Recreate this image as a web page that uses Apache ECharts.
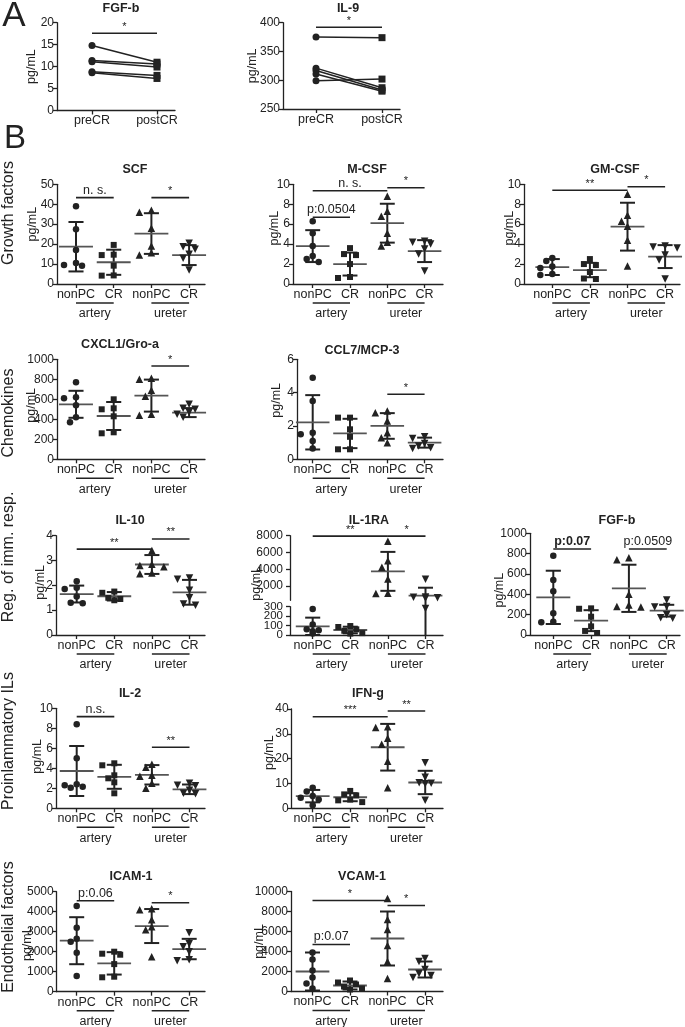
<!DOCTYPE html>
<html>
<head>
<meta charset="utf-8">
<script src="https://cdn.jsdelivr.net/npm/echarts@6/dist/echarts.min.js"></script>
<style>
  html, body { margin: 0; padding: 0; background: #fff; }
  #chart { width: 685px; height: 1027px; }
</style>
</head>
<body>
<div id="chart"></div>
<script>
// ---------- data ----------
const groupNames = ["nonPC", "CR", "nonPC", "CR"];
const tissueNames = ["artery", "ureter"];
const pairNames = ["preCR", "postCR"];
const rowNames = ["Growth factors", "Chemokines", "Reg. of imm. resp.", "Proinlammatory ILs", "Endothelial factors"];

// panel A (paired, pre -> post)
const fgfAPre = [14.8, 11.4, 11.1, 8.8, 8.6];
const fgfAPost = [11.0, 10.6, 9.9, 8.0, 7.3];
const fgfAAxis = [0, 20, 5];
const il9Pre = [375, 321, 317, 311, 299];
const il9Post = [374, 287, 283, 281, 302];
const il9Axis = [250, 400, 50];

// panel B: points per group (artery nonPC, artery CR, ureter nonPC, ureter CR), mean, SD, axis [min,max,step]
const scfPoints = [[39, 27.5, 17, 10.5, 9.5, 9.2], [19.6, 14.7, 14.5, 9.2, 4.3, 4.2], [37, 36, 28, 19, 15.7, 14.5], [20.4, 18.7, 17.4, 14.9, 12.9, 7.0]];
const scfMean = [18.7, 10.9, 25.3, 14.5];
const scfSd = [12.4, 6.3, 10.2, 5.0];
const scfAxis = [0, 50, 10];
const scfSig = [[0, 1, 43.3, "n. s."], [2, 3, 43.3, "*"]];

const mcsfPoints = [[6.3, 5.1, 3.8, 2.8, 2.5, 2.2], [3.6, 3.0, 2.9, 2.0, 0.7, 0.6], [8.8, 7.3, 6.8, 5.1, 4.2, 3.8], [4.3, 4.2, 4.0, 3.5, 3.0, 1.3]];
const mcsfMean = [3.8, 2.0, 6.1, 3.3];
const mcsfSd = [1.6, 1.15, 1.95, 1.1];
const mcsfAxis = [0, 10, 2];
const mcsfSig = [[0, 1, 6.7, "p:0.0504"], [0, 2, 9.35, "n. s."], [2, 3, 9.65, "*"]];

const gmcsfPoints = [[2.6, 2.3, 1.75, 1.6, 1.0, 0.9], [2.5, 2.0, 1.9, 1.2, 0.55, 0.5], [9.0, 6.9, 6.3, 5.8, 4.4, 1.8], [3.8, 3.7, 3.6, 2.9, 2.4, 0.5]];
const gmcsfMean = [1.7, 1.4, 5.75, 2.75];
const gmcsfSd = [0.8, 0.72, 2.4, 1.15];
const gmcsfAxis = [0, 10, 2];
const gmcsfSig = [[0, 2, 9.4, "**"], [2, 3, 9.75, "*"]];

const cxcl1Points = [[770, 620, 610, 540, 420, 370], [600, 510, 500, 430, 270, 260], [810, 800, 690, 630, 450, 440], [550, 510, 500, 470, 450, 420]];
const cxcl1Mean = [550, 433, 637, 467];
const cxcl1Sd = [135, 140, 160, 45];
const cxcl1Axis = [0, 1000, 200];
const cxcl1Sig = [[2, 3, 933, "*"]];

const ccl7Points = [[4.9, 3.5, 1.6, 1.5, 1.1, 0.65], [2.5, 2.5, 1.8, 1.35, 0.6, 0.6], [2.9, 2.8, 2.3, 1.6, 1.3, 1.0], [1.35, 1.25, 0.95, 0.8, 0.7, 0.65]];
const ccl7Mean = [2.22, 1.55, 2.0, 1.0];
const ccl7Sd = [1.63, 0.88, 0.77, 0.3];
const ccl7Axis = [0, 6, 2];
const ccl7Sig = [[2, 3, 3.9, "*"]];

const il10Points = [[2.17, 1.9, 1.85, 1.55, 1.3, 1.28], [1.75, 1.7, 1.5, 1.45, 1.4], [3.4, 2.85, 2.8, 2.75, 2.5, 2.47], [2.3, 2.25, 1.8, 1.5, 1.25, 1.2]];
const il10Mean = [1.65, 1.56, 2.84, 1.72];
const il10Sd = [0.34, 0.17, 0.38, 0.5];
const il10Axis = [0, 4, 1];
const il10Sig = [[0, 2, 3.46, "**"], [2, 3, 3.87, "**"]];

const il1raPoints = [[275, 110, 60, 50, 40, 15], [95, 85, 60, 45, 20, 15], [7350, 5000, 4250, 2850, 1150, 1100], [2800, 700, 650, 600, 550, 280]];
const il1raMean = [92, 53, 3750, 850];
const il1raSd = [92, 35, 2320, 950];
const il1raUpperLabels = [2000, 4000, 6000, 8000];
const il1raUpperAxis = [300, 8000];
const il1raLowerLabels = [0, 100, 200, 300];
const il1raLowerAxis = [0, 300];
const il1raSig = [[0, 2, 7950, "**"], [2, 3, 7950, "*"]];

const fgfbPoints = [[780, 540, 430, 215, 130, 125], [262, 258, 180, 85, 40, 20], [760, 740, 400, 295, 280, 275], [345, 280, 275, 200, 170, 165]];
const fgfbMean = [370, 141, 459, 239];
const fgfbSd = [262, 103, 232, 58];
const fgfbAxis = [0, 1000, 200];
const fgfbSig = [[0, 1, 846, "p:0.07", true], [2, 3, 846, "p:0.0509"]];

const il2Points = [[8.4, 5.0, 2.4, 2.3, 2.15, 2.05], [4.5, 4.3, 3.3, 3.0, 2.6, 1.5], [4.4, 4.1, 3.3, 3.2, 2.5, 2.0], [2.5, 2.3, 2.25, 1.8, 1.5, 1.45]];
const il2Mean = [3.73, 3.15, 3.35, 1.9];
const il2Sd = [2.5, 1.2, 0.97, 0.48];
const il2Axis = [0, 10, 2];
const il2Sig = [[0, 1, 9.17, "n.s."], [2, 3, 6.1, "**"]];

const ifngPoints = [[8.3, 6.8, 5.0, 4.2, 3.5, 1.2], [7.0, 5.6, 5.2, 3.5, 3.2, 2.5], [32.8, 32.5, 28.2, 25.8, 19.0, 8.3], [18.3, 12.5, 10.3, 10.1, 9.9, 3.2]];
const ifngMean = [4.9, 4.45, 24.6, 10.4];
const ifngSd = [2.5, 1.6, 9.4, 4.7];
const ifngAxis = [0, 40, 10];
const ifngSig = [[0, 2, 36.9, "***"], [2, 3, 39.2, "**"]];

const icamPoints = [[4280, 3200, 2650, 2500, 1950, 780], [2000, 1900, 1850, 1380, 750, 720], [4150, 4100, 3600, 3250, 3100, 1750], [2950, 2400, 2250, 2000, 1600, 1550]];
const icamMean = [2550, 1417, 3283, 2133];
const icamSd = [1175, 560, 850, 510];
const icamAxis = [0, 5000, 1000];
const icamSig = [[0, 1, 4550, "p:0.06"], [2, 3, 4450, "*"]];

const vcamPoints = [[3900, 3200, 2100, 1400, 800, 300], [1100, 900, 700, 500, 300, 200], [9300, 7200, 6200, 4600, 3000, 1300], [3300, 3000, 2200, 1800, 1600, 1400]];
const vcamMean = [2000, 600, 5300, 2200];
const vcamSd = [1900, 400, 2700, 800];
const vcamAxis = [0, 10000, 2000];
const vcamSig = [[0, 2, 9100, "*"], [2, 3, 8600, "*"], [0, 1, 4700, "p:0.07"]];

// ---------- style ----------
const FONT = "Liberation Sans, Arial, Helvetica, sans-serif";
const INK = "#222";
const MEAN_INK = "#555";
const symbols = ["circle", "rect", "triangle", "path://M0,0L10,0L5,9Z"];
const symbolSizes = [6.5, 6, 7.5, 7.5];

const seg = (axis, top, bottom) => ({ min: axis[0], max: axis[1], interval: axis[2], top, bottom });

const panels = [
  { title: "SCF", pts: scfPoints, mean: scfMean, sd: scfSd, sig: scfSig, segs: [seg(scfAxis, 184.3, 284)], axisX: 57, cat0: 76, step: 37.7, rightX: 205, titleX: 135, nameDist: 24, nameDy: -10 },
  { title: "M-CSF", pts: mcsfPoints, mean: mcsfMean, sd: mcsfSd, sig: mcsfSig, segs: [seg(mcsfAxis, 184.3, 284)], axisX: 293, cat0: 312.7, step: 37.3, rightX: 443, titleX: 367, nameDist: 18, nameDy: -6 },
  { title: "GM-CSF", pts: gmcsfPoints, mean: gmcsfMean, sd: gmcsfSd, sig: gmcsfSig, segs: [seg(gmcsfAxis, 184.3, 284)], axisX: 524, cat0: 552.3, step: 37.6, rightX: 680, titleX: 615, nameDist: 14, nameDy: -6 },
  { title: "CXCL1/Gro-a", pts: cxcl1Points, mean: cxcl1Mean, sd: cxcl1Sd, sig: cxcl1Sig, segs: [seg(cxcl1Axis, 359.3, 459.3)], axisX: 57, cat0: 76, step: 37.7, rightX: 205, titleX: 120, nameDist: 25, nameDy: -4 },
  { title: "CCL7/MCP-3", pts: ccl7Points, mean: ccl7Mean, sd: ccl7Sd, sig: ccl7Sig, segs: [seg(ccl7Axis, 359.3, 459.3)], axisX: 297, cat0: 312.7, step: 37.3, rightX: 443, titleX: 362, titleGap: 9, nameDist: 20, nameDy: -9 },
  { title: "IL-10", pts: il10Points, mean: il10Mean, sd: il10Sd, sig: il10Sig, segs: [seg(il10Axis, 535.7, 635)], axisX: 56, cat0: 76.7, step: 37.6, rightX: 205, titleX: 130, nameDist: 15, nameDy: -3 },
  { title: "IL-1RA", pts: il1raPoints, mean: il1raMean, sd: il1raSd, sig: il1raSig,
    segs: [{ min: il1raUpperAxis[0], max: il1raUpperAxis[1], labels: il1raUpperLabels, top: 535.7, bottom: 600.3 },
           { min: il1raLowerAxis[0], max: il1raLowerAxis[1], labels: il1raLowerLabels, top: 606.7, bottom: 635, extTop: 6.4, labelSize: 11.5 }],
    axisX: 290, cat0: 312.7, step: 37.6, rightX: 443, titleX: 369, nameDist: 33, nameDy: -2 },
  { title: "FGF-b", pts: fgfbPoints, mean: fgfbMean, sd: fgfbSd, sig: fgfbSig, segs: [seg(fgfbAxis, 533.3, 635)], axisX: 530, cat0: 553.3, step: 37.8, rightX: 680, titleX: 617, titleGap: 13, nameDist: 30, nameDy: 6 },
  { title: "IL-2", pts: il2Points, mean: il2Mean, sd: il2Sd, sig: il2Sig, segs: [seg(il2Axis, 708.3, 808.3)], axisX: 56, cat0: 76.7, step: 37.6, rightX: 205, titleX: 130, nameDist: 18, nameDy: -2 },
  { title: "IFN-g", pts: ifngPoints, mean: ifngMean, sd: ifngSd, sig: ifngSig, segs: [seg(ifngAxis, 709, 808.3)], axisX: 291.7, cat0: 312.7, step: 37.5, rightX: 443, titleX: 368, nameDist: 22, nameDy: -6 },
  { title: "ICAM-1", pts: icamPoints, mean: icamMean, sd: icamSd, sig: icamSig, segs: [seg(icamAxis, 891.7, 991.7)], axisX: 56.7, cat0: 76.7, step: 37.5, rightX: 205, titleX: 131, nameDist: 29, nameDy: 2 },
  { title: "VCAM-1", pts: vcamPoints, mean: vcamMean, sd: vcamSd, sig: vcamSig, segs: [seg(vcamAxis, 891.5, 991.5)], axisX: 291, cat0: 312.5, step: 37.5, rightX: 443, titleX: 362, nameDist: 31, nameDy: 0 },
];

// ---------- build ----------
const grids = [], xAxes = [], yAxes = [], series = [], graphics = [];

function text(x, y, str, o) {
  o = o || {};
  graphics.push({
    type: "text", x, y, rotation: o.rotation || 0, silent: true,
    style: {
      text: str, fill: INK, fontFamily: FONT, fontSize: o.size || 12.5, fontWeight: o.weight || "normal",
      align: "center", verticalAlign: "middle", textAlign: "center", textVerticalAlign: "middle",
    },
  });
}

function line(x1, y1, x2, y2, w, color) {
  return { type: "line", shape: { x1, y1, x2, y2 }, style: { stroke: color || INK, lineWidth: w } };
}

function axisPair(gi, xMin, xMax, s, showX, xVals, xNames) {
  xAxes.push({
    gridIndex: gi, type: "value", min: xMin, max: xMax, show: showX,
    axisLine: { onZero: false, lineStyle: { color: INK, width: 1.3 } },
    axisTick: { customValues: xVals, length: 4, lineStyle: { color: INK, width: 1.3 } },
    axisLabel: { customValues: xVals, formatter: v => xNames[Math.round(v)], color: INK, fontSize: 12.5, fontFamily: FONT, margin: 4, hideOverlap: false },
    splitLine: { show: false },
  });
  const y = {
    gridIndex: gi, type: "value", min: s.min, max: s.max,
    axisLine: { show: true, onZero: false, lineStyle: { color: INK, width: 1.3 } },
    axisTick: { show: true, length: 4, lineStyle: { color: INK, width: 1.3 } },
    axisLabel: {
      color: INK, fontSize: 12, fontFamily: FONT, margin: 3,
      formatter: v => String(v), hideOverlap: false, showMinLabel: true, showMaxLabel: true,
    },
    splitLine: { show: false },
  };
  if (s.labels) {
    // broken-axis segments: ticks from the axis, labels drawn by a custom series below
    y.axisTick.customValues = s.labels;
    y.axisLabel.show = false;
    series.push({
      type: "custom", xAxisIndex: gi, yAxisIndex: gi, silent: true,
      data: s.labels.map(v => [xMin, v]),
      renderItem: (params, api) => {
        const c = api.coord([api.value(0), api.value(1)]);
        return { type: "text", style: { x: c[0] - 7, y: c[1], text: String(api.value(1)), fill: INK, fontFamily: FONT,
          fontSize: s.labelSize || 12, align: "right", verticalAlign: "middle" } };
      },
    });
  } else {
    y.interval = s.interval;
  }
  yAxes.push(y);
}

function swarm(vals, cat, s, step) {
  const k = (s.bottom - s.top) / (s.max - s.min);
  const placed = [];
  return vals.map(v => {
    const py = v * k;
    for (const o of [0, -1, 1, -2, 2]) {
      const px = o * 6;
      if (placed.every(q => Math.hypot(q[0] - px, q[1] - py) >= 6.5)) {
        placed.push([px, py]);
        return [cat + px / step, v];
      }
    }
    return [cat, v];
  });
}

function addPanel(p) {
  const xMin = -(p.cat0 - p.axisX) / p.step;
  const xMax = (p.rightX - p.cat0) / p.step;
  const nSeg = p.segs.length;
  p.segs.forEach((s, si) => {
    const gi = grids.length;
    const last = si === nSeg - 1;
    grids.push({ left: p.axisX, top: s.top, width: p.rightX - p.axisX, height: s.bottom - s.top, outerBoundsMode: "none" });
    axisPair(gi, xMin, xMax, s, last, [0, 1, 2, 3], groupNames);
    const belongs = v => {
      // first segment whose range holds v (segments ordered top to bottom)
      for (let j = 0; j < nSeg; j++) {
        const t = p.segs[j];
        if (v >= t.min && v <= t.max) return j === si;
      }
      return last;
    };

    // points
    p.pts.forEach((vals, g) => {
      series.push({
        type: "scatter", xAxisIndex: gi, yAxisIndex: gi, silent: true, z: 5,
        symbol: symbols[g], symbolSize: symbolSizes[g],
        itemStyle: { color: INK, opacity: 1 },
        data: swarm(vals.filter(belongs), g, s, p.step),
      });
    });

    // mean +/- SD
    series.push({
      type: "custom", xAxisIndex: gi, yAxisIndex: gi, silent: true, z: 3,
      data: p.mean.map((m, g) => [g, m, p.sd[g]]),
      renderItem: (params, api) => {
        const g = api.value(0), m = api.value(1), sd = api.value(2);
        const hi = m + sd, lo = m - sd;
        const kids = [];
        const top = Math.min(hi, s.max), bot = Math.max(lo, s.min);
        if (top > bot) {
          const a = api.coord([g, top]), b = api.coord([g, bot]);
          let y1 = a[1];
          if (hi > s.max && s.extTop) y1 -= s.extTop;
          kids.push(line(a[0], y1, b[0], b[1], 2));
        }
        [hi, lo].forEach(v => {
          if (v >= s.min && v <= s.max) {
            const a = api.coord([g - 0.2, v]), b = api.coord([g + 0.2, v]);
            kids.push(line(a[0], a[1], b[0], b[1], 2));
          }
        });
        if (m >= s.min && m <= s.max) {
          const a = api.coord([g - 0.45, m]), b = api.coord([g + 0.45, m]);
          kids.push(line(a[0], a[1], b[0], b[1], 1.8, MEAN_INK));
        }
        return { type: "group", children: kids };
      },
    });

    // significance bars
    const sigHere = p.sig.filter(r => r[2] >= s.min && r[2] <= s.max);
    if (sigHere.length) {
      series.push({
        type: "custom", xAxisIndex: gi, yAxisIndex: gi, silent: true, z: 4,
        data: sigHere.map((r, i) => [r[0], r[1], r[2], i]),
        renderItem: (params, api) => {
          const r = sigHere[api.value(3)];
          const a = api.coord([api.value(0), api.value(2)]), b = api.coord([api.value(1), api.value(2)]);
          return {
            type: "group", children: [
              line(a[0], a[1], b[0], b[1], 1.6),
              { type: "text", style: { x: (a[0] + b[0]) / 2, y: a[1] - 1, text: r[3], fill: INK, fontFamily: FONT,
                fontSize: r[3].indexOf("*") >= 0 ? 11 : 12.5, fontWeight: r[4] ? "bold" : "normal",
                align: "center", verticalAlign: "bottom" } },
            ],
          };
        },
      });
    }

    // tissue group labels under the x axis
    if (last) {
      series.push({
        type: "custom", xAxisIndex: gi, yAxisIndex: gi, silent: true,
        data: [[0, 1, 0], [2, 3, 1]],
        renderItem: (params, api) => {
          const a = api.coord([api.value(0), s.min]), b = api.coord([api.value(1), s.min]);
          const y = a[1] + 19;
          return {
            type: "group", children: [
              line(a[0], y, b[0], y, 1.6),
              { type: "text", style: { x: (a[0] + b[0]) / 2, y: y + 11, text: tissueNames[api.value(2)], fill: INK,
                fontFamily: FONT, fontSize: 12.5, align: "center", verticalAlign: "middle" } },
            ],
          };
        },
      });
    }
  });

  const top = p.segs[0].top, bottom = p.segs[nSeg - 1].bottom;
  text(p.titleX, top - (p.titleGap || 15), p.title, { weight: "bold", size: 12.5 });
  text(p.axisX - p.nameDist, (top + bottom) / 2 + (p.nameDy || 0), "pg/mL", { rotation: Math.PI / 2, size: 12.5 });
}

function addPaired(title, pre, post, axis, L) {
  const gi = grids.length;
  const s = { min: axis[0], max: axis[1], interval: axis[2], top: L.top, bottom: L.bottom };
  grids.push({ left: L.axisX, top: L.top, width: L.rightX - L.axisX, height: L.bottom - L.top, outerBoundsMode: "none" });
  axisPair(gi, -(L.cat0 - L.axisX) / L.step, (L.rightX - L.cat0) / L.step, s, true, [0, 1], pairNames);
  pre.forEach((v, i) => {
    series.push({
      type: "line", xAxisIndex: gi, yAxisIndex: gi, silent: true, symbolSize: 7,
      lineStyle: { color: INK, width: 1.5 }, itemStyle: { color: INK, opacity: 1 },
      data: [{ value: [0, v], symbol: "circle" }, { value: [1, post[i]], symbol: "rect" }],
    });
  });
  series.push({
    type: "custom", xAxisIndex: gi, yAxisIndex: gi, silent: true,
    data: [[0, 1, L.sigY]],
    renderItem: (params, api) => {
      const a = api.coord([0, api.value(2)]), b = api.coord([1, api.value(2)]);
      return { type: "group", children: [
        line(a[0], a[1], b[0], b[1], 1.6),
        { type: "text", style: { x: (a[0] + b[0]) / 2, y: a[1] - 1, text: "*", fill: INK, fontFamily: FONT, fontSize: 11, align: "center", verticalAlign: "bottom" } },
      ] };
    },
  });
  text(L.titleX, 9, title, { weight: "bold", size: 12.5 });
  text(L.axisX - L.nameDist, (L.top + L.bottom) / 2, "pg/mL", { rotation: Math.PI / 2, size: 12.5 });
}

addPaired("FGF-b", fgfAPre, fgfAPost, fgfAAxis, { axisX: 57, cat0: 92, step: 65, rightX: 175, top: 22.7, bottom: 110.5, titleX: 121, nameDist: 25, sigY: 17.6 });
addPaired("IL-9", il9Pre, il9Post, il9Axis, { axisX: 283, cat0: 316, step: 66, rightX: 400, top: 22.7, bottom: 109, titleX: 348, nameDist: 30, sigY: 392 });
panels.forEach(addPanel);

text(14, 16, "A", { size: 35 });
text(15, 139, "B", { size: 33 });
[213, 413, 557, 741, 927].forEach((y, i) => text(9, y, rowNames[i], { rotation: Math.PI / 2, size: 16 }));

const chart = echarts.init(document.getElementById("chart"));
chart.setOption({
  animation: false,
  backgroundColor: "#fff",
  textStyle: { fontFamily: FONT },
  grid: grids,
  xAxis: xAxes,
  yAxis: yAxes,
  series: series,
  graphic: graphics,
});
</script>
</body>
</html>
